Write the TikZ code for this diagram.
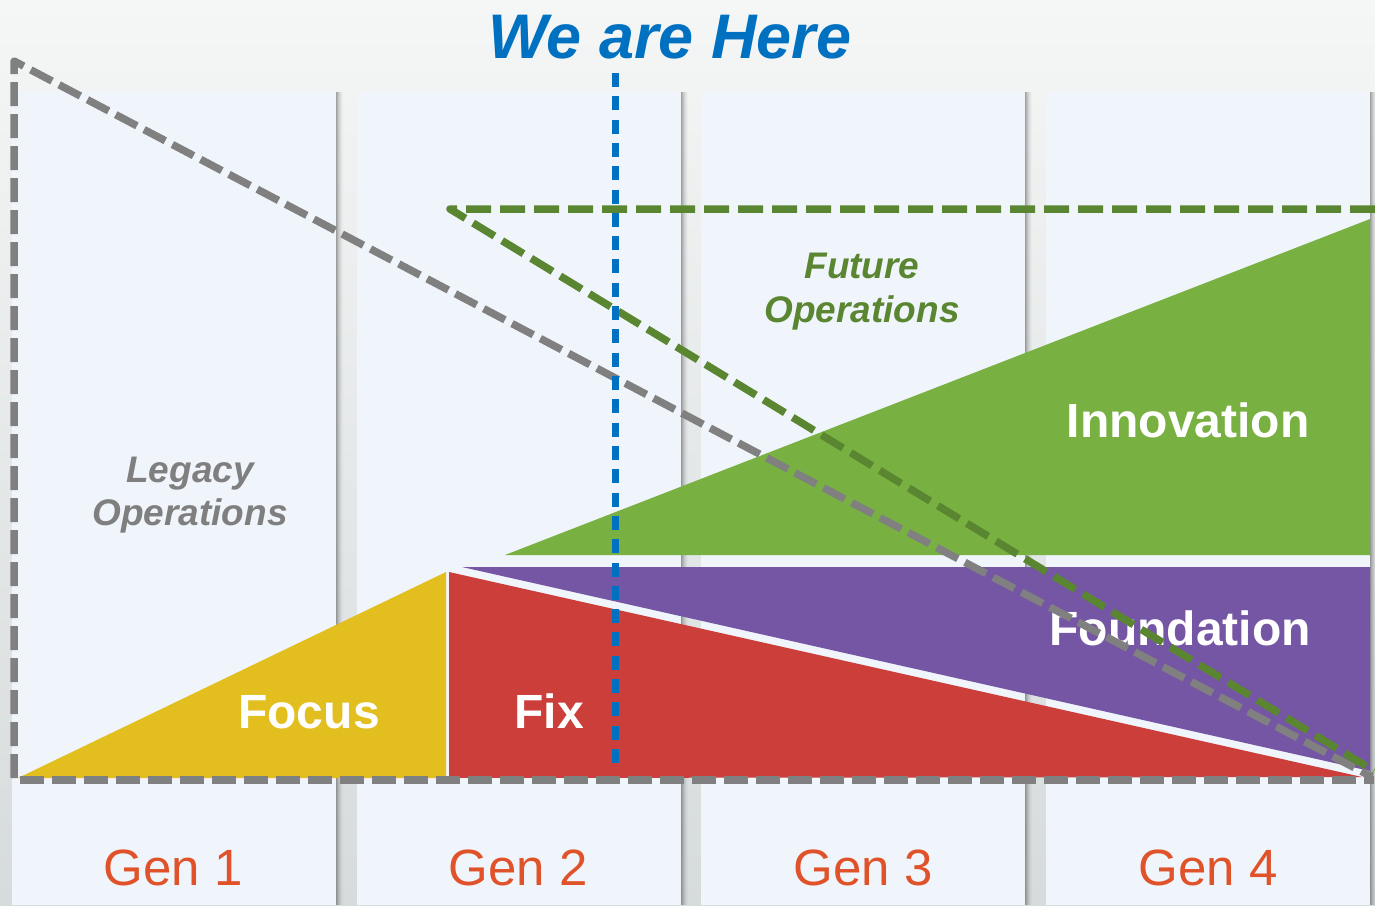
\documentclass[tikz,border=0pt]{standalone}
\usepackage{fontspec}
\setmainfont{Liberation Sans}
\definecolor{bgtop}{HTML}{F5F6F6}
\definecolor{bgbot}{HTML}{D6DBDC}
\definecolor{colfill}{HTML}{F0F4FB}
\definecolor{dashgray}{HTML}{808080}
\definecolor{dashgreen}{HTML}{5A8631}
\definecolor{herblue}{HTML}{0070C0}
\definecolor{focusyellow}{HTML}{E2BF1E}
\definecolor{fixred}{HTML}{CB3E3A}
\definecolor{foundpurple}{HTML}{7556A4}
\definecolor{innogreen}{HTML}{78B142}
\definecolor{genorange}{HTML}{E0532A}
\definecolor{legacygray}{HTML}{7F7F7F}
\begin{document}
\begin{tikzpicture}[x=1pt,y=-1pt,
  graydash/.style={draw=dashgray,line width=7.5pt,dash pattern=on 24pt off 8pt,line join=round},
  greendash/.style={draw=dashgreen,line width=7.5pt,dash pattern=on 25pt off 9pt,line join=round},
  bluedash/.style={draw=herblue,line width=6.5pt,dash pattern=on 14pt off 9.31pt},
  biglabel/.style={text=white,font=\bfseries\fontsize{48}{56}\selectfont,anchor=base,inner sep=0pt},
  genlabel/.style={text=genorange,font=\fontsize{51}{60}\selectfont,anchor=base,inner sep=0pt},
  oplabel/.style={font=\bfseries\itshape\fontsize{37}{43}\selectfont,anchor=base,inner sep=0pt}]
\useasboundingbox (0,0) rectangle (1375,905);
% background
\shade[top color=bgtop,bottom color=bgbot] (0,0) rectangle (1375,905);
% columns with right shadows
\foreach \xl in {12,357,701,1046}{
  \foreach \i [evaluate=\i as \op using 0.34*(1-\i/8)^2] in {0,...,7}{
    \fill[black,opacity=\op] (\xl+324+\i,92) rectangle (\xl+325+\i,905);
  }
  \fill[colfill] (\xl,92) rectangle (\xl+324,905);
}
% coloured areas
\fill[focusyellow] (18,778) -- (446,572) -- (446,778) -- cycle;
\fill[fixred] (449,572) -- (1362,777) -- (449,778) -- cycle;
\fill[foundpurple] (462,567) -- (1370,567) -- (1370,771) -- cycle;
\fill[innogreen] (505,555) -- (1370,219) -- (1370,555) -- cycle;
% labels
\node[biglabel] (focus) at (309,728) {Focus};
\node[biglabel] (fix) at (549,728) {Fix};
\node[biglabel] (found) at (1180,645) {Foundation};
\node[biglabel] (inno) at (1188,437) {Innovation};
\node[oplabel,text=legacygray] (leg1) at (190,482) {Legacy};
\node[oplabel,text=legacygray] (leg2) at (190,525) {Operations};
\node[oplabel,text=dashgreen] (fut1) at (862,278) {Future};
\node[oplabel,text=dashgreen] (fut2) at (862,322) {Operations};
\node[genlabel] (g1) at (173,885) {Gen 1};
\node[genlabel] (g2) at (518,885) {Gen 2};
\node[genlabel] (g3) at (863,885) {Gen 3};
\node[genlabel] (g4) at (1208,885) {Gen 4};
\node[text=herblue,font=\bfseries\itshape\fontsize{63}{70}\selectfont,anchor=base,inner sep=0pt] (here) at (670,58) {We are Here};
% dashed lines
\coordinate (gtl) at (14,61);
\coordinate (gbl) at (14,778);
\coordinate (gbl2) at (20,780);
\coordinate (gbr) at (1374,780);
\coordinate (gdr) at (1372,777);
\draw[graydash] (gbl) -- (gtl) -- (gdr);
\draw[graydash] (gbl2) -- (gbr);
\coordinate (ntl) at (450,209);
\coordinate (ntr) at (1375,209);
\coordinate (ndr) at (1374,771);
\draw[greendash] (ntr) -- (ntl) -- (ndr);
\coordinate (btop) at (615.5,73);
\coordinate (bbot) at (615.5,763);
\draw[bluedash] (btop) -- (bbot);
\end{tikzpicture}
\end{document}
